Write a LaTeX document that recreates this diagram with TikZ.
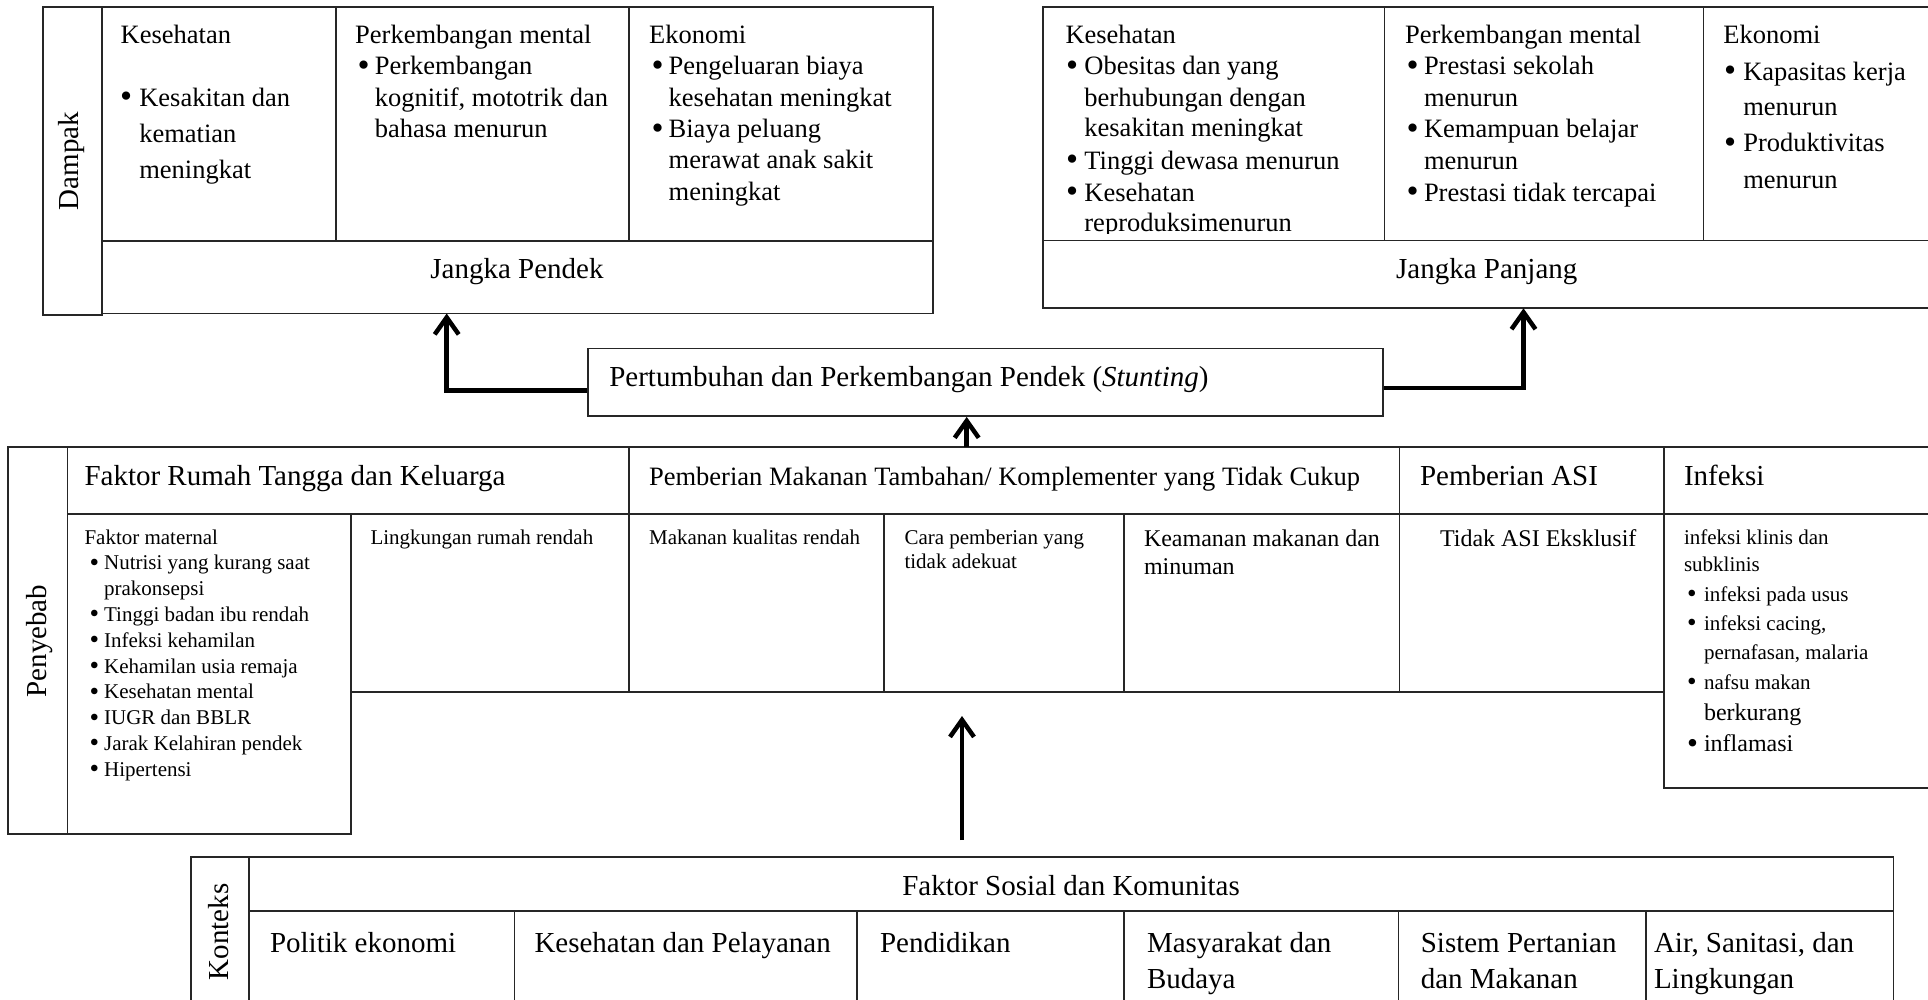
\documentclass[tikz,border=0pt]{standalone}
\usepackage{fontspec}
\setmainfont{Liberation Serif}
\usetikzlibrary{arrows.meta}
\newcommand{\fsz}[1]{\fontsize{#1}{#1}\selectfont}
\newcommand{\bul}[1]{\makebox[#1][l]{\raisebox{-0.07em}{\scalebox{1.3}{\textbullet}}}}
\begin{document}
\begin{tikzpicture}[x=1pt,y=-1pt,
  grid/.style={draw=black!85, line width=1.8pt},
  conn/.style={line width=4.5pt, draw=black, -{Straight Barb[length=17pt,width=24pt]}},
  txt/.style={anchor=base west, inner sep=0pt, outer sep=0pt},
  ctr/.style={anchor=base, inner sep=0pt, outer sep=0pt},
  fa/.style={font=\fsz{26.5}},
  fb/.style={font=\fsz{29}},
  fc/.style={font=\fsz{21}},
  fd/.style={font=\fsz{24}},
  side/.style={rotate=90, anchor=base, inner sep=0pt, font=\fsz{29}},
]
\useasboundingbox (0,0) rectangle (1928,999);

% ---------- top-left box (Dampak, jangka pendek)
\draw[grid] (43,7.3) rectangle (102.3,315);
\draw[grid] (102.3,7.3) rectangle (932.6,313.5);
\draw[grid] (102.3,240.7) -- (932.6,240.7);
\draw[grid] (335.6,7.3) -- (335.6,240.7) (628.9,7.3) -- (628.9,240.7);
\node[side] (damp) at (78,161) {Dampak};

\node[txt,fa] (tlAh) at (120.7,43.3) {Kesehatan};
\node[txt,fa] (tlAa) at (120,106) {\bul{19.3pt}Kesakitan dan};
\node[txt,fa] (tlAb) at (139.3,142) {kematian};
\node[txt,fa] (tlAc) at (139.3,178) {meningkat};
\node[txt,fa] (tlBh) at (355.2,43.3) {Perkembangan mental};
\node[txt,fa] (tlBa) at (357.5,74.5) {\bul{17.3pt}Perkembangan};
\node[txt,fa] (tlBb) at (374.8,106) {kognitif, mototrik dan};
\node[txt,fa] (tlBc) at (374.8,137) {bahasa menurun};
\node[txt,fa] (tlCh) at (649.1,43.3) {Ekonomi};
\node[txt,fa] (tlCa) at (651.5,74.5) {\bul{17.2pt}Pengeluaran biaya};
\node[txt,fa] (tlCb) at (668.7,106) {kesehatan meningkat};
\node[txt,fa] (tlCc) at (651.5,137.5) {\bul{17.2pt}Biaya peluang};
\node[txt,fa] (tlCd) at (668.7,168.5) {merawat anak sakit};
\node[txt,fa] (tlCe) at (668.7,200) {meningkat};
\node[ctr,fb] (jpendek) at (517,278.3) {Jangka Pendek};
\coordinate (jpin) at (446.7,313.5);

% ---------- top-right box (jangka panjang)
\draw[grid] (1935,7.3) -- (1043,7.3) -- (1043,308.3) -- (1935,308.3);
\draw[grid] (1043,240.5) -- (1935,240.5);
\draw[grid] (1384.5,7.3) -- (1384.5,240.5) (1703.5,7.3) -- (1703.5,240.5);

\node[txt,fa] (trAh) at (1065.5,43.3) {Kesehatan};
\node[txt,fa] (trAa) at (1066,74.5) {\bul{18.4pt}Obesitas dan yang};
\node[txt,fa] (trAb) at (1084.4,106) {berhubungan dengan};
\node[txt,fa] (trAc) at (1084.4,136) {kesakitan meningkat};
\node[txt,fa] (trAd) at (1066,169) {\bul{18.4pt}Tinggi dewasa menurun};
\node[txt,fa] (trAe) at (1066,201) {\bul{18.4pt}Kesehatan};
\begin{scope}
\clip (1043,205) rectangle (1384,233);
\node[txt,fa] (trAf) at (1084.4,231) {reproduksimenurun};
\end{scope}
\node[txt,fa] (trBh) at (1405.1,43.3) {Perkembangan mental};
\node[txt,fa] (trBa) at (1406.5,74.5) {\bul{17.5pt}Prestasi sekolah};
\node[txt,fa] (trBb) at (1424,106) {menurun};
\node[txt,fa] (trBc) at (1406.5,137.5) {\bul{17.5pt}Kemampuan belajar};
\node[txt,fa] (trBd) at (1424,169) {menurun};
\node[txt,fa] (trBe) at (1406.5,201) {\bul{17.5pt}Prestasi tidak tercapai};
\node[txt,fa] (trCh) at (1723.3,43.3) {Ekonomi};
\node[txt,fa] (trCa) at (1724,80) {\bul{19.3pt}Kapasitas kerja};
\node[txt,fa] (trCb) at (1743.3,115) {menurun};
\node[txt,fa] (trCc) at (1724,151.7) {\bul{19.3pt}Produktivitas};
\node[txt,fa] (trCd) at (1743.3,188.3) {menurun};
\node[ctr,fb] (jpanjang) at (1486.8,278) {Jangka Panjang};
\coordinate (jpjin) at (1523.5,308.3);

% ---------- stunting box
\node[grid, minimum width=795pt, minimum height=67.5pt, inner sep=0pt] (stunt) at (985.5,382.25) {};
\node[txt,fb] (stunttxt) at (609.3,386) {Pertumbuhan dan Perkembangan Pendek (\textit{Stunting})};

% ---------- Penyebab table
\draw[grid] (1935,447.3) -- (8,447.3) -- (8,834) -- (351,834) -- (351,514.3);
\draw[grid] (67.4,447.3) -- (67.4,834);
\draw[grid] (67.4,514.3) -- (1935,514.3);
\draw[grid] (351,691.7) -- (1664.3,691.7);
\draw[grid] (629,447.3) -- (629,691.7);
\draw[grid] (883.6,514.3) -- (883.6,691.7);
\draw[grid] (1123.6,514.3) -- (1123.6,691.7);
\draw[grid] (1399.5,447.3) -- (1399.5,691.7);
\draw[grid] (1664.3,447.3) -- (1664.3,787.7) -- (1935,787.7);
\node[side] (peny) at (46.5,641) {Penyebab};

\node[txt,fb] (hA) at (84.5,485) {Faktor Rumah Tangga dan Keluarga};
\node[txt,fa] (hB) at (649.1,485) {Pemberian Makanan Tambahan/ Komplementer yang Tidak Cukup};
\node[txt,fb] (hC) at (1420,485) {Pemberian ASI};
\node[txt,fb] (hD) at (1684,485) {Infeksi};

\node[txt,fc] (fm0) at (84.5,544) {Faktor maternal};
\node[txt,fc] (fm1) at (89.5,569.8) {\bul{14.6pt}Nutrisi yang kurang saat};
\node[txt,fc] (fm1b) at (104.1,595.6) {prakonsepsi};
\node[txt,fc] (fm2) at (89.5,621.4) {\bul{14.6pt}Tinggi badan ibu rendah};
\node[txt,fc] (fm3) at (89.5,647.2) {\bul{14.6pt}Infeksi kehamilan};
\node[txt,fc] (fm4) at (89.5,673) {\bul{14.6pt}Kehamilan usia remaja};
\node[txt,fc] (fm5) at (89.5,698.8) {\bul{14.6pt}Kesehatan mental};
\node[txt,fc] (fm6) at (89.5,724.6) {\bul{14.6pt}IUGR dan BBLR};
\node[txt,fc] (fm7) at (89.5,750.4) {\bul{14.6pt}Jarak Kelahiran pendek};
\node[txt,fc] (fm8) at (89.5,776.2) {\bul{14.6pt}Hipertensi};

\node[txt,fc] (lr) at (370.5,544) {Lingkungan rumah rendah};
\node[txt,fc] (mk) at (649.1,544) {Makanan kualitas rendah};
\node[txt,fc] (cpA) at (904.5,544) {Cara pemberian yang};
\node[txt,fc] (cpB) at (904.5,568.5) {tidak adekuat};
\node[txt,fd] (kmA) at (1144,546.5) {Keamanan makanan dan};
\node[txt,fd] (kmB) at (1144,574) {minuman};
\node[txt,fd] (ta) at (1440,546.5) {Tidak ASI Eksklusif};
\node[txt,fc] (ifA) at (1684,544) {infeksi klinis dan};
\node[txt,fc] (ifB) at (1684,571.5) {subklinis};
\node[txt,fc] (ifC) at (1687,601) {\bul{17pt}infeksi pada usus};
\node[txt,fc] (ifD) at (1687,630.5) {\bul{17pt}infeksi cacing,};
\node[txt,fc] (ifE) at (1704,659) {pernafasan, malaria};
\node[txt,fc] (ifF) at (1687,689) {\bul{17pt}nafsu makan};
\node[txt,fd] (ifG) at (1704,720) {berkurang};
\node[txt,fd] (ifH) at (1687,751.5) {\bul{17pt}inflamasi};

% ---------- Konteks table
\draw[grid] (191,1010) -- (191,856.7) -- (1893.5,856.7) -- (1893.5,1010);
\draw[grid] (249,856.7) -- (249,1010);
\draw[grid] (249,910.7) -- (1893.5,910.7);
\foreach \xx in {514.4,856.7,1124.3,1398.5,1646}
  \draw[grid] (\xx,910.7) -- (\xx,1010);
\node[side] (kont) at (228,932) {Konteks};
\node[ctr,fb] (fsk) at (1071,895) {Faktor Sosial dan Komunitas};
\node[txt,fb] (kA) at (270,952) {Politik ekonomi};
\node[txt,fb] (kB) at (534.5,952) {Kesehatan dan Pelayanan};
\node[txt,fb] (kC) at (880,952) {Pendidikan};
\node[txt,fb] (kDa) at (1147,952) {Masyarakat dan};
\node[txt,fb] (kDb) at (1147,988) {Budaya};
\node[txt,fb] (kEa) at (1420.8,952) {Sistem Pertanian};
\node[txt,fb] (kEb) at (1420.8,988) {dan Makanan};
\node[txt,fb] (kFa) at (1654,952) {Air, Sanitasi, dan};
\node[txt,fb] (kFb) at (1654,988) {Lingkungan};

% ---------- connectors
\draw[conn] ([yshift=-8.45pt]stunt.west) -| (jpin);
\draw[conn] ([yshift=-5.75pt]stunt.east) -| (jpjin);
\coordinate (pnt) at (966.7,447.3);
\draw[conn] (pnt) -- (pnt |- stunt.south);
\coordinate (lbot) at (962,840);
\coordinate (ltop) at (962,716);
\draw[conn] (lbot) -- (ltop);
\end{tikzpicture}
\end{document}
